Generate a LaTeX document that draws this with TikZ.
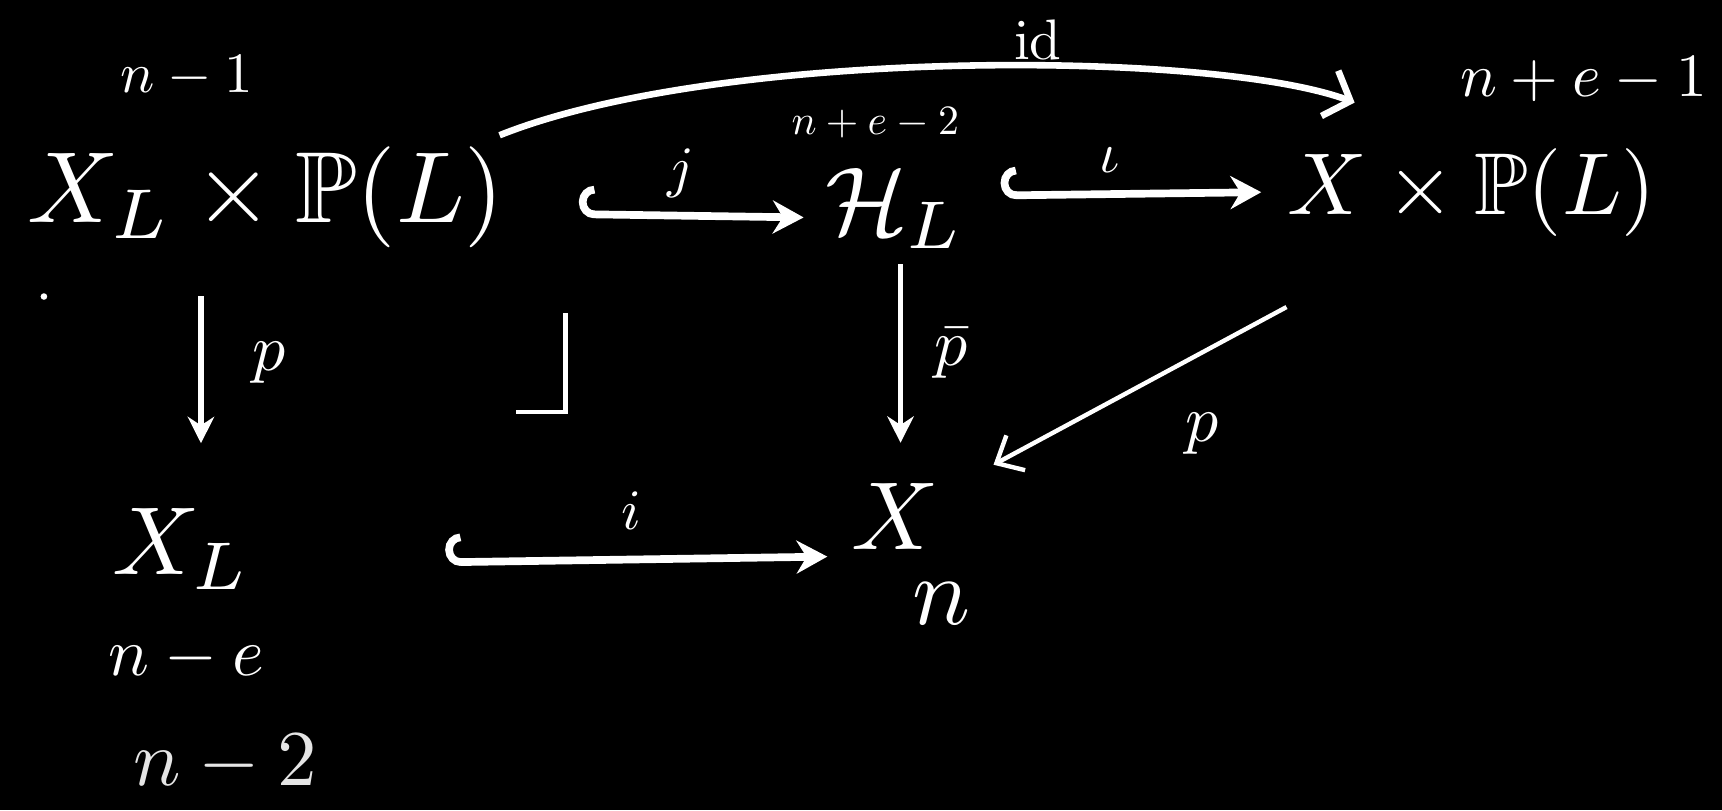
\documentclass[tikz,border=0pt]{standalone}
\usepackage{amsmath,amssymb}
\usetikzlibrary{arrows.meta}
\begin{document}
\begin{tikzpicture}[x=0.5pt,y=-0.5pt,
  obj/.style={scale=4.4, inner sep=0pt, text=white},
  dim/.style={scale=2.2, inner sep=0pt, text=white},
  lab/.style={scale=2.6, inner sep=0pt, text=white},
  hk/.style={draw=white, line width=3.5pt, line cap=round,
     {Hooks[right,length=7pt,width=26pt]}-{Stealth[length=14pt,width=15pt]}},
  dn/.style={draw=white, line width=2.5pt, -{Stealth[length=12pt,width=12pt]}},
  curv/.style={draw=white, line width=3pt, -{Straight Barb[length=10pt,width=22pt]}}
]
\fill[black] (0,0) rectangle (1568,738);
\useasboundingbox (0,0) rectangle (1568,738);

% objects
\node[obj,scale=4.6/4.4] (XP) at (242,180) {$X_L\times\mathbb{P}(L)$};
\node[obj] (H) at (815,190) {$\mathcal{H}_L$};
\node[obj,scale=4.0/4.4] (XR) at (1340,175) {$X\times\mathbb{P}(L)$};
\node[obj] (XL) at (165,500) {$X_L$};
\node[obj] (X) at (815,470) {$X$};

% dimensions
\node[dim,scale=2.6/2.2] (d1) at (170,70) {$n-1$};
\node[dim,scale=1.9/2.2] (d2) at (797,112) {$n+e-2$};
\node[dim,scale=2.8/2.2] (d3) at (1442,72) {$n+e-1$};
\node[dim,scale=3.1/2.2] (d4) at (170,600) {$n-e$};
\node[dim,scale=4.4/2.2] (d5) at (857,550) {$n$};
\node[dim,scale=3.6/2.2,text=white!90!black] (d6) at (205,695) {$n-2$};

% arrow labels
\node[lab] (lj) at (620,158) {$j$};
\node[lab] (liota) at (1010,146) {$\iota$};
\node[lab] (li) at (575,465) {$i$};
\node[lab] (lid) at (945,36) {$\mathrm{id}$};
\node[lab,scale=3/2.6] (lp) at (245,330) {$p$};
\node[lab,scale=3/2.6] (lpb) at (866,322) {$\bar{p}$};
\node[lab,scale=3/2.6] (lp2) at (1095,395) {$p$};

% connectors
\draw[hk] ([shift={(66,15)}]XP.east) -- ([shift={(-18,8)}]H.west);
\draw[hk] ([shift={(31,-12)}]H.east) -- ([shift={(-22,0)}]XR.west);
\draw[hk] ([shift={(176,12)}]XL.east) -- ([shift={(-20,5)}]X.south west);
\draw[dn] ([shift={(-59,42)}]XP.south) -- ([shift={(18,-58)}]XL.north);
\draw[dn] ([shift={(5,12)}]H.south) -- ([shift={(5,-35)}]X.north);
\draw[dn,line width=2pt,-{Straight Barb[length=10pt,width=18pt]}] ([shift={(1,63)}]XR.south west) -- ([shift={(48,-15)}]X.north east);
\draw[curv] ([shift={(-6,-9)}]XP.north east) .. controls +(200,-80) and +(-129,-48) .. ([shift={(63,-40)}]XR.north west);

% pullback corner
\draw[white, line width=2pt] (470,375) -- (515,375) -- (515,285);
% stray dot
\fill[white] (40,270) circle (3);
\end{tikzpicture}
\end{document}
